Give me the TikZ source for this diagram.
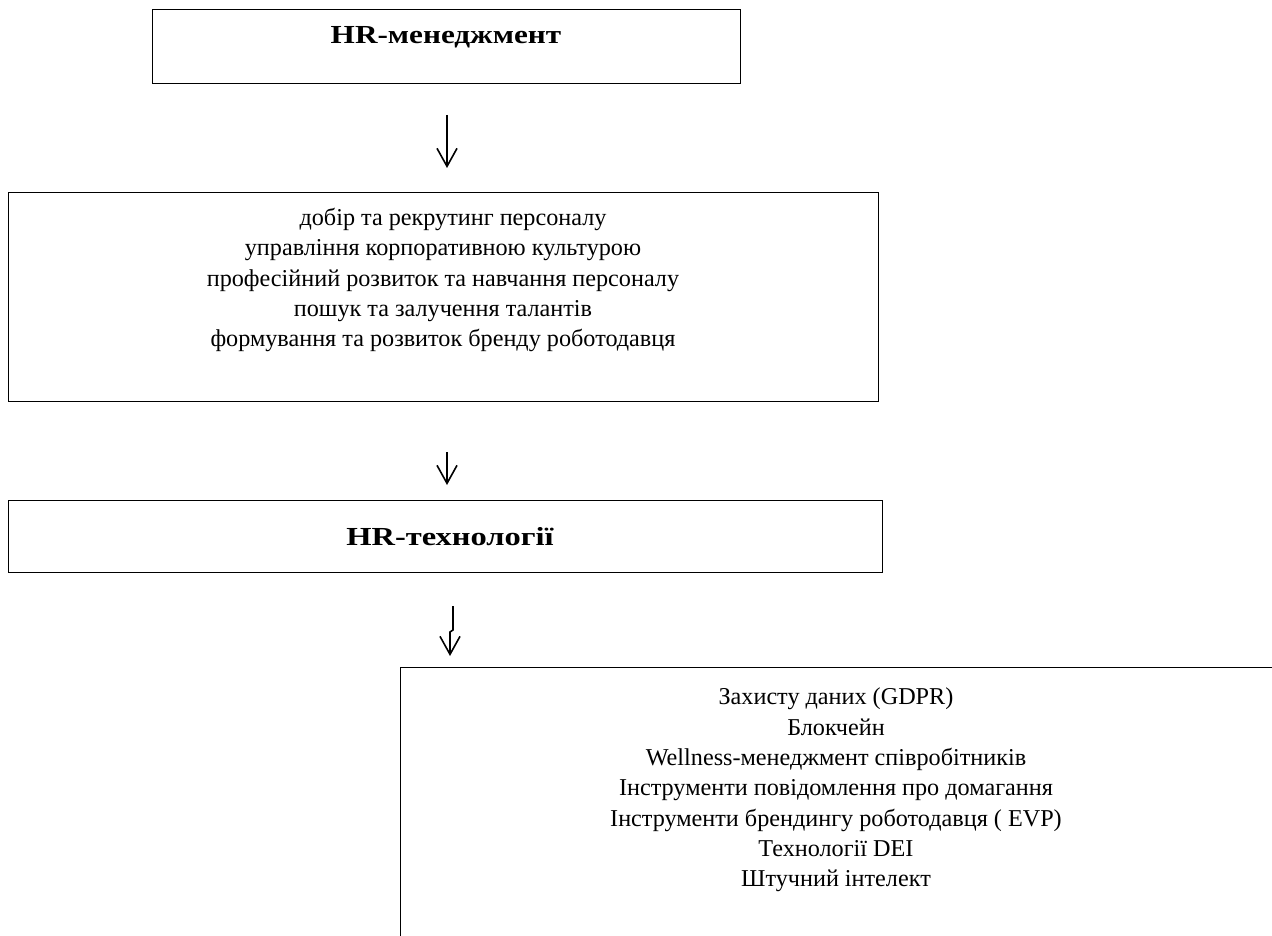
\documentclass[tikz,border=0pt]{standalone}
\usepackage{fontspec}
\setmainfont{Liberation Serif}
\usetikzlibrary{arrows.meta}
\tikzset{
  boxst/.style={draw=black, line width=1.3pt, rectangle, anchor=north west, inner sep=0pt},
  bodyst/.style={font=\fontsize{24.2}{30.3}\selectfont, align=center, inner sep=0pt},
  titlest/.style={font=\fontsize{26}{30}\selectfont\bfseries, inner sep=0pt},
  arrst/.style={line width=1.6pt, -{Straight Barb[length=18pt,width=20pt,line width=1.6pt]}}
}
\begin{document}
\begin{tikzpicture}[x=1pt,y=-1pt]
\useasboundingbox (0,0) rectangle (1272,936);
\clip (0,0) rectangle (1272,936);
% boxes
\node[boxst, minimum width=588pt, minimum height=74pt] (b1) at (152,9) {};
\node[boxst, minimum width=870pt, minimum height=209pt] (b2) at (8,192) {};
\node[boxst, minimum width=874pt, minimum height=72pt] (b3) at (8,500) {};
\node[boxst, minimum width=880pt, minimum height=280pt] (b4) at (400,667) {};
% texts
\node[titlest, anchor=base] (t1) at (446,44) {\scalebox{1.2}[1]{HR-менеджмент}};
\node[bodyst] (t2) at (443,280) {\hspace*{20pt}добір та рекрутинг персоналу\\
управління корпоративною культурою\\
професійний розвиток та навчання персоналу\\
пошук та залучення талантів\\
формування та розвиток бренду роботодавця};
\node[titlest, anchor=base] (t3) at (450,545) {\scalebox{1.25}[1]{HR-технології}};
\node[bodyst] (t4) at (836,790) {Захисту даних (GDPR)\\
Блокчейн\\
Wellness-менеджмент співробітників\\
Інструменти повідомлення про домагання\\
Інструменти брендингу роботодавця ( EVP)\\
Технології DEI\\
Штучний інтелект};
% arrows
\coordinate (a1s) at (447,115);
\coordinate (a1e) at (447,168);
\coordinate (a2s) at (447,452);
\coordinate (a2e) at (447,485);
\coordinate (a3s) at (453,606);
\coordinate (a3m) at (453,630);
\coordinate (a3n) at (450,632);
\coordinate (a3e) at (450,656);
\draw[arrst] (a1s) -- (a1e);
\draw[arrst] (a2s) -- (a2e);
\draw[arrst] (a3s) -- (a3m) -- (a3n) -- (a3e);
\end{tikzpicture}
\end{document}
